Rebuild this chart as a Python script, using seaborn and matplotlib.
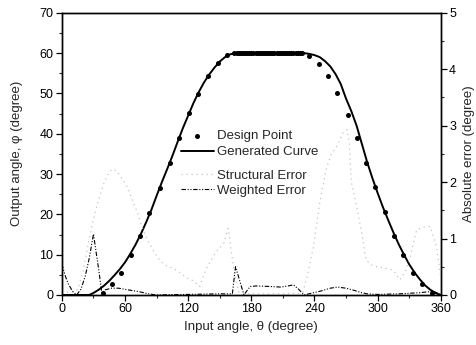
import matplotlib
matplotlib.use("Agg")
import matplotlib.pyplot as plt
import seaborn as sns
import pandas as pd
from matplotlib.ticker import MultipleLocator

# ---------------- data ----------------
design_theta = [38.7, 47.9, 56.5, 65.4, 74.3, 83.2, 93.0, 102.5, 111.4, 121.0,
                128.9, 138.7, 147.9, 156.8,
                164, 166, 168, 170, 172, 174, 176, 178, 180, 182, 184, 186,
                188, 190, 192, 194, 196, 198, 200, 202, 204, 206, 208, 210,
                212, 214, 216, 218, 220, 222, 224, 226, 228,
                235.0, 244.0, 253.0, 261.6, 271.4, 280.6, 289.3, 297.8, 306.7,
                316.0, 324.4, 333.6, 342.5, 352.0]
design_phi = [0.6, 2.6, 5.4, 9.8, 14.7, 20.4, 26.6, 32.8, 39.0, 45.1,
              49.8, 54.3, 57.5, 59.4,
              60, 60, 60, 60, 60, 60, 60, 60, 60, 60, 60, 60,
              60, 60, 60, 60, 60, 60, 60, 60, 60, 60, 60, 60,
              60, 60, 60, 60, 60, 60, 60, 60, 60,
              59.3, 57.3, 54.3, 50.0, 44.7, 39.0, 32.8, 26.8, 20.6,
              14.7, 9.8, 5.4, 2.6, 0.6]

curve_theta = [0, 10, 20, 26, 30, 35, 40, 45, 50, 55, 60, 65, 70, 75, 80, 85, 90,
               95, 100, 105, 110, 115, 120, 125, 130, 135, 140, 145, 150, 155,
               160, 165, 230, 235, 240, 245, 250, 255, 260, 265, 270, 275, 280,
               285, 290, 295, 300, 305, 310, 315, 320, 325, 330, 335, 340, 345,
               350, 355, 360]
curve_phi = [0, 0, 0, 0, 0.5, 1.3, 2.3, 3.5, 4.9, 6.4, 8.1, 10.2, 12.5, 15.1,
             18.0, 21.1, 24.6, 28.0, 31.2, 34.5, 38.0, 41.4, 44.5, 47.6, 50.3,
             52.7, 54.7, 56.4, 57.9, 59.0, 59.7, 60, 60, 59.8, 59.5, 59.0, 58.0,
             56.7, 54.8, 52.3, 48.7, 45.6, 42.0, 37.5, 33.0, 29.0, 25.3, 21.8,
             18.6, 15.5, 12.6, 10.0, 7.6, 5.6, 3.9, 2.4, 1.3, 0.5, 0]

struct_theta = [0, 10, 15, 20, 25, 30, 35, 40, 45, 48, 52, 55, 60, 62, 65, 68,
                72, 76, 81, 89, 93, 98, 109, 119, 125, 131, 138, 146, 154, 158,
                163, 168, 175, 200, 225, 229, 234, 239, 245, 251, 256, 261, 267,
                271, 273, 275, 280, 285, 289, 295, 300, 308, 315, 321, 326, 331,
                337, 343, 350, 356, 360]
struct_err = [0.05, 0.05, 0.1, 0.4, 0.9, 1.35, 1.7, 1.98, 2.18, 2.23, 2.2, 2.12,
              1.98, 1.92, 1.78, 1.63, 1.45, 1.21, 0.98, 0.72, 0.62, 0.53, 0.44,
              0.3, 0.25, 0.15, 0.5, 0.75, 0.92, 1.18, 0.5, 0.05, 0.02, 0.02,
              0.03, 0.05, 0.4, 0.86, 1.63, 2.22, 2.5, 2.63, 2.87, 2.93, 2.7,
              2.0, 1.57, 1.09, 0.62, 0.52, 0.5, 0.47, 0.44, 0.27, 0.4, 0.68,
              1.15, 1.2, 1.21, 0.86, 0.3]

weight_theta = [0, 3, 6, 10, 14, 18, 22, 26, 30, 33, 35, 38, 41, 47, 54, 63, 73,
                80, 89, 120, 150, 162, 164, 165, 169, 173, 176, 179, 185, 198,
                208, 215, 220, 225, 230, 237, 246, 255, 262, 270, 278, 285, 290,
                300, 320, 340, 350, 355, 360]
weight_err = [0.55, 0.35, 0.2, 0.07, 0.0, 0.1, 0.32, 0.65, 1.08, 0.7, 0.45,
              0.03, 0.09, 0.12, 0.12, 0.09, 0.06, 0.03, 0.0, 0.01, 0.02, 0.02,
              0.35, 0.5, 0.25, 0.0, 0.08, 0.15, 0.16, 0.15, 0.14, 0.16, 0.18,
              0.1, 0.0, 0.03, 0.07, 0.12, 0.14, 0.12, 0.08, 0.04, 0.02, 0.01,
              0.02, 0.04, 0.06, 0.05, 0.0]

# ---------------- style ----------------
sns.set_theme(style="ticks")
plt.rcParams["font.family"] = ["Liberation Sans", "DejaVu Sans"]
plt.rcParams["axes.linewidth"] = 1.0
plt.rcParams["xtick.direction"] = "out"
plt.rcParams["ytick.direction"] = "out"

fig = plt.figure(figsize=(4.76, 3.45), dpi=100)
ax = fig.add_axes([0.130, 0.145, 0.796, 0.818])
ax2 = ax.twinx()

df_design = pd.DataFrame({"theta": design_theta, "phi": design_phi})
df_curve = pd.DataFrame({"theta": curve_theta, "phi": curve_phi})
df_struct = pd.DataFrame({"theta": struct_theta, "err": struct_err})
df_weight = pd.DataFrame({"theta": weight_theta, "err": weight_err})

sns.scatterplot(data=df_design, x="theta", y="phi", ax=ax, color="black",
                s=13, linewidth=0, label="Design Point", zorder=3, legend=False)
sns.lineplot(data=df_curve, x="theta", y="phi", ax=ax, color="black",
             linewidth=1.4, estimator=None, sort=False, label="Generated Curve",
             legend=False)

sns.lineplot(data=df_struct, x="theta", y="err", ax=ax2, color="#c4c4c4",
             linewidth=0.9, linestyle=(0, (1, 3)), estimator=None, sort=False,
             label="Structural Error", legend=False)
sns.lineplot(data=df_weight, x="theta", y="err", ax=ax2, color="black",
             linewidth=0.8, linestyle=(0, (4, 1.5, 1, 1.5, 1, 1.5)),
             estimator=None, sort=False, label="Weighted Error", legend=False)

# ---------------- axes ----------------
ax.set_xlim(0, 360)
ax.set_ylim(0, 70)
ax2.set_ylim(0, 5)
ax.xaxis.set_major_locator(MultipleLocator(60))
ax.xaxis.set_minor_locator(MultipleLocator(30))
ax.yaxis.set_major_locator(MultipleLocator(10))
ax.yaxis.set_minor_locator(MultipleLocator(5))
ax2.yaxis.set_major_locator(MultipleLocator(1))
ax2.yaxis.set_minor_locator(MultipleLocator(0.5))

for a in (ax, ax2):
    for s in a.spines.values():
        s.set_visible(True)
        s.set_color("black")
        s.set_linewidth(1.0)
    a.tick_params(which="major", length=4, width=0.9, labelsize=9,
                  colors="black", pad=2)
    a.tick_params(which="minor", length=2.5, width=0.8)
ax.tick_params(top=False, which="both")
ax.tick_params(axis="y", right=False, which="both")

ax.set_xlabel("Input angle, θ (degree)", fontsize=9.5, labelpad=4)
ax.set_ylabel("Output angle, φ (degree)", fontsize=9.5, labelpad=12)
ax2.set_ylabel("Absolute error (degree)", fontsize=9.5, labelpad=5)

# ---------------- legends ----------------
h1, l1 = ax.get_legend_handles_labels()
h2, l2 = ax2.get_legend_handles_labels()
ax.legend(h1, l1, loc="center left",
          bbox_to_anchor=(181 / 476, 1 - 144 / 345),
          bbox_transform=fig.transFigure, frameon=False, fontsize=9.5,
          handlelength=2.5, handletextpad=0.25, borderpad=0,
          borderaxespad=0, labelspacing=0.3)
ax2.legend(h2, l2, loc="center left",
           bbox_to_anchor=(181 / 476, 1 - 183 / 345),
           bbox_transform=fig.transFigure, frameon=False, fontsize=9.5,
           handlelength=2.5, handletextpad=0.25, borderpad=0,
           borderaxespad=0, labelspacing=0.22)

fig.savefig("out.png", dpi=100)
